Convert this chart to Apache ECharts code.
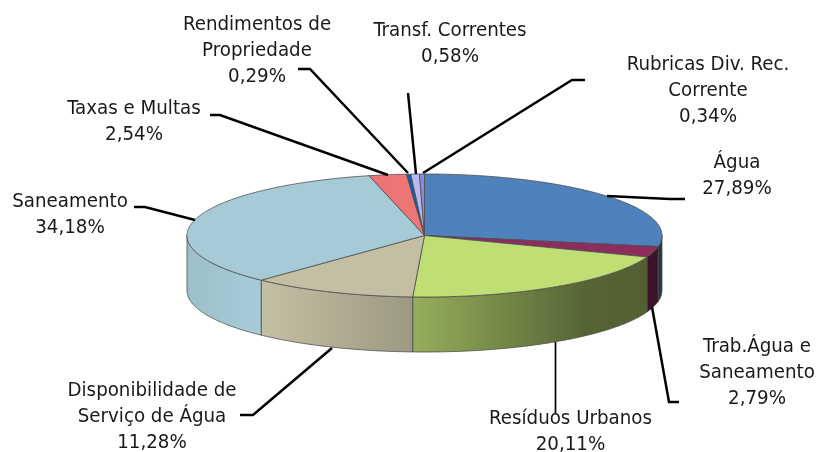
<!DOCTYPE html>
<html>
<head>
<meta charset="utf-8">
<style>html,body{margin:0;padding:0;background:#fff}#c{width:819px;height:452px;filter:blur(0.45px)}</style>
<script src="https://cdn.jsdelivr.net/npm/echarts@6/dist/echarts.min.js"></script>
</head>
<body>
<div id="c"></div>
<script>
const categories = ['Água','Trab.Água e\nSaneamento','Resíduos Urbanos','Disponibilidade de\nServiço de Água','Saneamento','Taxas e Multas','Rendimentos de\nPropriedade','Transf. Correntes','Rubricas Div. Rec.\nCorrente'];
const shares = [27.89,2.79,20.11,11.28,34.18,2.54,0.29,0.58,0.34];
const sliceColors = ['#4F81BD','#8C2D5E','#BFDF75','#C4BFA3','#A6CBD6','#EE7575','#0B5FB0','#B9B9F0','#8A8AE2'];

const pie = {cx:424.5, cy:235.5, rx:237.5, ry:61.5, depth:55};
const labelLayout = [
  {x:737,y:176, line:[[685,199],[670,199],[607,196]]},
  {x:757,y:373, line:[[679,402],[669,402],[652,307]]},
  {x:570.5,y:432, line:[[555.5,342],[555.5,413]], thin:true},
  {x:152,y:417, line:[[240,415],[253,415],[332,348]]},
  {x:70,y:215, line:[[134,207],[145,207],[195,220]]},
  {x:134,y:122, line:[[210,115],[220,115],[388,175]]},
  {x:257,y:51, line:[[298,69],[310,69],[408,173]]},
  {x:450,y:44, line:[[408,93],[416,174]]},
  {x:708,y:91, line:[[585,80],[572,80],[423,173]]}
];
const shadeStops = [[0,.94],[.13,1],[.16,1],[.47,.8],[.48,.78],[.84,.45],[1,.42]];

const total = shares.reduce((a,b)=>a+b,0);
function shade(hex,m){
  const n=parseInt(hex.slice(1),16);
  return `rgb(${Math.round((n>>16&255)*m)},${Math.round((n>>8&255)*m)},${Math.round((n&255)*m)})`;
}
function pt(deg,dy){
  const a=deg*Math.PI/180;
  return [pie.cx+pie.rx*Math.sin(a), pie.cy-pie.ry*Math.cos(a)+(dy||0)];
}
function arc(a0,a1,dy){
  const out=[], n=Math.max(2,Math.ceil(Math.abs(a1-a0)*2));
  for(let i=0;i<=n;i++) out.push(pt(a0+(a1-a0)*i/n,dy));
  return out;
}
const edge={stroke:'#4d4d4d',lineWidth:0.8};
function renderSlice(params,api){
  const i=params.dataIndex, v=api.value(1);
  let before=0; for(let k=0;k<i;k++) before+=shares[k];
  const a0=before/total*360, a1=(before+v)/total*360;
  const children=[];
  const w0=Math.max(a0,90), w1=Math.min(a1,270);
  if(w1>w0){
    const fill=new echarts.graphic.LinearGradient(pie.cx-pie.rx,0,pie.cx+pie.rx,0,
      shadeStops.map(s=>({offset:s[0],color:shade(sliceColors[i],s[1])})),true);
    children.push({type:'polygon',shape:{points:arc(w0,w1,0).concat(arc(w1,w0,pie.depth))},style:Object.assign({fill},edge)});
  }
  children.push({type:'polygon',shape:{points:[[pie.cx,pie.cy]].concat(arc(a0,a1,0))},style:Object.assign({fill:sliceColors[i]},edge)});
  return {type:'group',children};
}
function renderLabel(params,api){
  const i=params.dataIndex, L=labelLayout[i];
  const pct=api.value(1).toFixed(2).replace('.',',')+'%';
  return {type:'group',children:[
    {type:'polyline',shape:{points:L.line},style:{stroke:'#000',lineWidth:L.thin?1.7:2.5,fill:null}},
    {type:'text',style:{x:L.x,y:L.y,text:categories[i]+'\n'+pct,align:'center',verticalAlign:'middle',
      font:'20.3px "DejaVu Sans Condensed","DejaVu Sans",sans-serif',lineHeight:26,fill:'#1a1a1a'}}
  ]};
}
const rows=categories.map((c,i)=>[i,shares[i]]);
const chart=echarts.init(document.getElementById('c'),null,{renderer:'canvas'});
chart.setOption({
  animation:false,
  backgroundColor:'#fff',
  series:[
    {type:'custom',coordinateSystem:'none',data:rows,renderItem:renderSlice,z:1,silent:true},
    {type:'custom',coordinateSystem:'none',data:rows,renderItem:renderLabel,z:2,silent:true}
  ]
});
</script>
</body>
</html>
